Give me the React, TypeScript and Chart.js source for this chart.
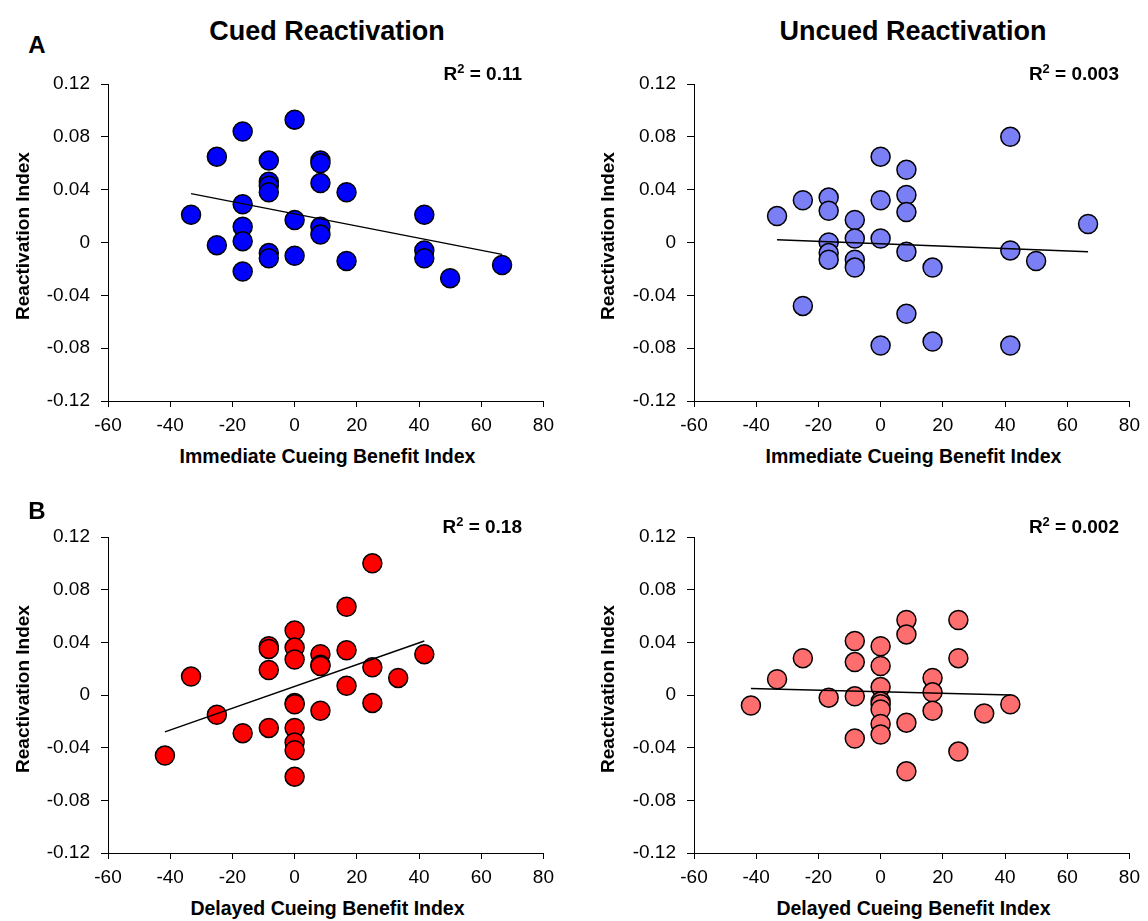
import React, { useEffect, useRef } from "react";
import { Chart, registerables } from "chart.js";

Chart.register(...registerables);

// ---- Axis ticks ----
const X_TICKS = [-60, -40, -20, 0, 20, 40, 60, 80];
const X_TICK_LABELS = ["-60", "-40", "-20", "0", "20", "40", "60", "80"];
const Y_TICKS = [-0.12, -0.08, -0.04, 0, 0.04, 0.08, 0.12];
const Y_TICK_LABELS = ["-0.12", "-0.08", "-0.04", "0", "0.04", "0.08", "0.12"];

// ---- A: Cued reactivation vs immediate cueing benefit ----
const cuedImmX = [-33.3, -25, -25, -16.7, -16.7, -16.7, -16.7, -16.7, -8.3, -8.3, -8.3, -8.3, -8.3, -8.3, 0, 0, 0, 8.3, 8.3, 8.3, 8.3, 8.3, 16.7, 16.7, 41.7, 41.7, 41.7, 50, 66.7];
const cuedImmY = [0.021, 0.065, -0.002, 0.084, 0.029, 0.012, 0.001, -0.022, 0.062, 0.046, 0.043, 0.038, -0.008, -0.012, 0.093, 0.017, -0.010, 0.062, 0.060, 0.045, 0.012, 0.006, 0.038, -0.014, 0.021, -0.006, -0.012, -0.027, -0.017];
const cuedImmFitX = [-33.3, 66.7];
const cuedImmFitY = [0.037, -0.009];

// ---- A: Uncued reactivation vs immediate cueing benefit ----
const uncuedImmX = [-33.3, -25, -25, -16.7, -16.7, -16.7, -16.7, -16.7, -8.3, -8.3, -8.3, -8.3, 0, 0, 0, 0, 8.3, 8.3, 8.3, 8.3, 8.3, 16.7, 16.7, 41.7, 41.7, 41.7, 50, 66.7];
const uncuedImmY = [0.020, 0.032, -0.048, 0.034, 0.024, 0.000, -0.008, -0.013, 0.017, 0.003, -0.013, -0.019, 0.065, 0.032, 0.003, -0.078, 0.055, 0.036, 0.023, -0.007, -0.054, -0.019, -0.075, 0.080, -0.006, -0.078, -0.014, 0.014];
const uncuedImmFitX = [-33.3, 66.7];
const uncuedImmFitY = [0.002, -0.007];

// ---- B: Cued reactivation vs delayed cueing benefit ----
const cuedDelX = [-41.7, -33.3, -25, -16.7, -8.3, -8.3, -8.3, -8.3, 0, 0, 0, 0, 0, 0, 0, 0, 0, 8.3, 8.3, 8.3, 8.3, 16.7, 16.7, 16.7, 25, 25, 25, 33.3, 41.7];
const cuedDelY = [-0.046, 0.014, -0.015, -0.029, 0.037, 0.035, 0.019, -0.025, 0.049, 0.036, 0.027, -0.006, -0.007, -0.025, -0.036, -0.042, -0.062, 0.031, 0.023, 0.022, -0.012, 0.067, 0.034, 0.007, 0.100, 0.021, -0.006, 0.013, 0.031];
const cuedDelFitX = [-41.7, 41.7];
const cuedDelFitY = [-0.028, 0.041];

// ---- B: Uncued reactivation vs delayed cueing benefit ----
const uncuedDelX = [-41.7, -33.3, -25, -16.7, -8.3, -8.3, -8.3, -8.3, 0, 0, 0, 0, 0, 0, 0, 0, 8.3, 8.3, 8.3, 8.3, 16.7, 16.7, 16.7, 25, 25, 25, 33.3, 41.7];
const uncuedDelY = [-0.008, 0.012, 0.028, -0.002, 0.041, 0.025, -0.001, -0.033, 0.037, 0.022, 0.006, -0.005, -0.007, -0.011, -0.022, -0.030, 0.057, 0.046, -0.021, -0.058, 0.013, 0.002, -0.012, 0.057, 0.028, -0.043, -0.014, -0.007];
const uncuedDelFitX = [-41.7, 41.7];
const uncuedDelFitY = [0.005, 0.0];

const FONT = "'Liberation Sans', Arial, Helvetica, sans-serif";

type PanelProps = {
  xs: number[];
  ys: number[];
  fitX: number[];
  fitY: number[];
  color: string;
  plotLeft: number;
  plotRight: number;
  plotTop: number;
  plotBottom: number;
};

const Y_AXIS_W = 108;
const PAD_TOP = 24;
const PAD_RIGHT = 14;
const X_AXIS_H = 40;
const TICK_FONT = 19;

function Panel({ xs, ys, fitX, fitY, color, plotLeft, plotRight, plotTop, plotBottom }: PanelProps) {
  const ref = useRef<HTMLCanvasElement | null>(null);
  const left = plotLeft - Y_AXIS_W;
  const top = plotTop - PAD_TOP;
  const width = plotRight - left + PAD_RIGHT;
  const height = plotBottom - top + X_AXIS_H;

  useEffect(() => {
    if (!ref.current) return;
    const points = xs.map((x, i) => ({ x, y: ys[i] }));
    const fit = fitX.map((x, i) => ({ x, y: fitY[i] }));
    const chart = new Chart(ref.current, {
      type: "scatter",
      data: {
        datasets: [
          {
            type: "line",
            data: fit,
            borderColor: "#000",
            borderWidth: 1.5,
            pointRadius: 0,
            fill: false,
            order: 0,
          } as any,
          {
            data: points,
            backgroundColor: color,
            borderColor: "#000",
            borderWidth: 1.5,
            pointRadius: 9.5,
            pointHoverRadius: 9.5,
            order: 1,
          },
        ],
      },
      options: {
        animation: false,
        responsive: false,
        devicePixelRatio: 1,
        events: [],
        layout: { padding: { top: PAD_TOP, right: PAD_RIGHT, left: 0, bottom: 0 } },
        plugins: { legend: { display: false }, tooltip: { enabled: false }, title: { display: false } },
        scales: {
          x: {
            type: "linear",
            min: -60,
            max: 80,
            afterFit: (s: any) => {
              s.height = X_AXIS_H;
            },
            afterBuildTicks: (s: any) => {
              s.ticks = X_TICKS.map((v) => ({ value: v }));
            },
            ticks: {
              autoSkip: false,
              maxRotation: 0,
              padding: 7,
              color: "#000",
              font: { family: FONT, size: TICK_FONT },
              callback: (v: any) => {
                const i = X_TICKS.indexOf(Number(v));
                return i >= 0 ? X_TICK_LABELS[i] : "";
              },
            },
            grid: { drawOnChartArea: false, drawTicks: true, tickLength: 6, color: "#000", lineWidth: 1 },
            border: { display: true, color: "#000", width: 1 },
          },
          y: {
            type: "linear",
            min: -0.12,
            max: 0.12,
            afterFit: (s: any) => {
              s.width = Y_AXIS_W;
            },
            afterBuildTicks: (s: any) => {
              s.ticks = Y_TICKS.map((v) => ({ value: v }));
            },
            ticks: {
              autoSkip: false,
              padding: 11,
              color: "#000",
              font: { family: FONT, size: TICK_FONT },
              callback: (v: any) => {
                const n = Number(v);
                const i = Y_TICKS.findIndex((t) => Math.abs(t - n) < 1e-9);
                return i >= 0 ? Y_TICK_LABELS[i] : "";
              },
            },
            grid: { drawOnChartArea: false, drawTicks: true, tickLength: 7, color: "#000", lineWidth: 1 },
            border: { display: true, color: "#000", width: 1 },
          },
        },
      },
    });
    return () => chart.destroy();
  }, []);

  return (
    <canvas
      ref={ref}
      width={width}
      height={height}
      style={{ position: "absolute", left, top, width, height }}
    />
  );
}

type LabelProps = {
  x: number;
  y: number;
  size: number;
  bold?: boolean;
  align?: "center" | "right";
  rotate?: boolean;
  children: React.ReactNode;
};

function Label({ x, y, size, bold, align = "center", rotate, children }: LabelProps) {
  const tx = align === "right" ? "-100%" : "-50%";
  return (
    <div
      style={{
        position: "absolute",
        left: x,
        top: y,
        transform: `translate(${tx}, -50%)${rotate ? " rotate(-90deg)" : ""}`,
        fontSize: size,
        fontWeight: bold ? 700 : 400,
        lineHeight: 1,
        whiteSpace: "nowrap",
        color: "#000",
        fontFamily: FONT,
      }}
    >
      {children}
    </div>
  );
}

function R2({ value }: { value: string }) {
  return (
    <span>
      R
      <span style={{ fontSize: "0.68em", position: "relative", top: "-0.5em" }}>2</span>
      {" = " + value}
    </span>
  );
}

export default function App() {
  const L = { plotLeft: 108, plotRight: 547 };
  const R = { plotLeft: 694, plotRight: 1133 };
  const A = { plotTop: 84, plotBottom: 401 };
  const B = { plotTop: 537, plotBottom: 853 };
  return (
    <div
      style={{
        position: "absolute",
        left: 0,
        top: 0,
        width: 1148,
        height: 921,
        background: "#fff",
        overflow: "hidden",
        fontFamily: FONT,
      }}
    >
      <Panel xs={cuedImmX} ys={cuedImmY} fitX={cuedImmFitX} fitY={cuedImmFitY} color="#0000ff" {...L} {...A} />
      <Panel xs={uncuedImmX} ys={uncuedImmY} fitX={uncuedImmFitX} fitY={uncuedImmFitY} color="#7b7ff5" {...R} {...A} />
      <Panel xs={cuedDelX} ys={cuedDelY} fitX={cuedDelFitX} fitY={cuedDelFitY} color="#ff0000" {...L} {...B} />
      <Panel xs={uncuedDelX} ys={uncuedDelY} fitX={uncuedDelFitX} fitY={uncuedDelFitY} color="#ff6e6e" {...R} {...B} />

      <Label x={327} y={30.5} size={27} bold>Cued Reactivation</Label>
      <Label x={913} y={30.5} size={27} bold>Uncued Reactivation</Label>
      <Label x={37} y={45} size={24} bold>A</Label>
      <Label x={37} y={511} size={24} bold>B</Label>

      <Label x={522} y={72.5} size={19} bold align="right"><R2 value="0.11" /></Label>
      <Label x={1119} y={72.5} size={19} bold align="right"><R2 value="0.003" /></Label>
      <Label x={522} y={525.5} size={19} bold align="right"><R2 value="0.18" /></Label>
      <Label x={1119} y={525.5} size={19} bold align="right"><R2 value="0.002" /></Label>

      <Label x={22} y={236} size={19} bold rotate>Reactivation Index</Label>
      <Label x={607} y={236} size={19} bold rotate>Reactivation Index</Label>
      <Label x={22} y={689} size={19} bold rotate>Reactivation Index</Label>
      <Label x={607} y={689} size={19} bold rotate>Reactivation Index</Label>

      <Label x={327.5} y={457} size={19.5} bold>Immediate Cueing Benefit Index</Label>
      <Label x={913.5} y={457} size={19.5} bold>Immediate Cueing Benefit Index</Label>
      <Label x={327.5} y={909} size={19.5} bold>Delayed Cueing Benefit Index</Label>
      <Label x={913.5} y={909} size={19.5} bold>Delayed Cueing Benefit Index</Label>
    </div>
  );
}
